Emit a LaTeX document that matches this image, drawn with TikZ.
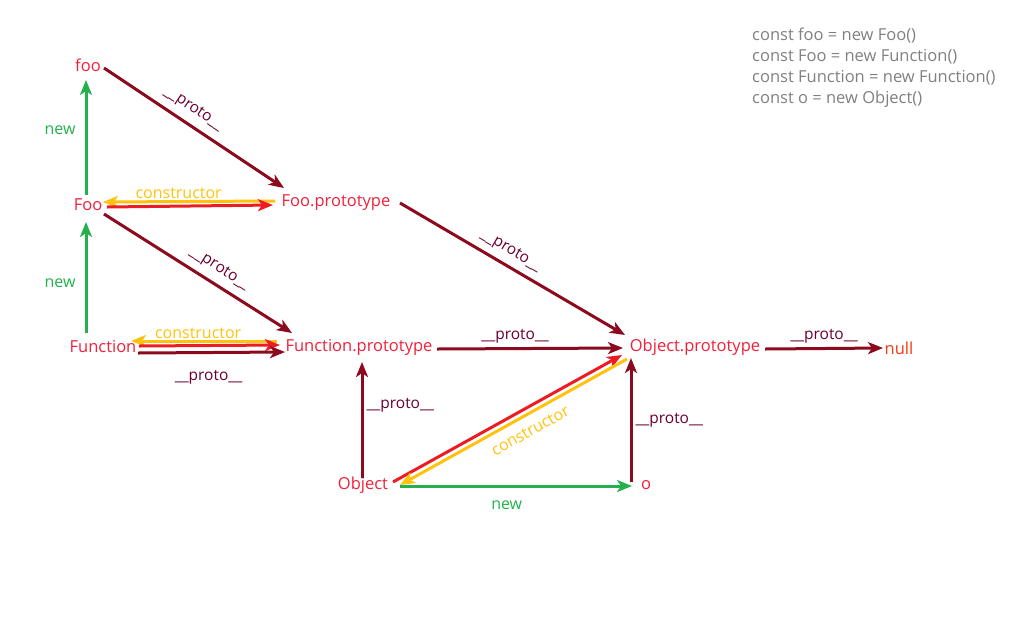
\documentclass[tikz,border=0pt]{standalone}
\usepackage{fontspec}
\setmainfont{Open Sans}
\usetikzlibrary{arrows.meta}
\definecolor{dred}{HTML}{8B0A1E}
\definecolor{ared}{HTML}{EC1C24}
\definecolor{ayel}{HTML}{FFC20E}
\definecolor{agrn}{HTML}{22B14C}
\definecolor{tred}{HTML}{F0203A}
\definecolor{tnull}{HTML}{F03A10}
\definecolor{tgray}{HTML}{808080}
\definecolor{tlab}{HTML}{6A0030}
\begin{document}
\begin{tikzpicture}[x=1pt,y=-1pt,
  lbl/.style={font=\fontsize{16.5}{19}\selectfont, text=tred, inner sep=0pt},
  arr/.style={line width=3pt, -{Stealth[length=15pt,width=12pt,inset=4pt]}},
  pr/.style={arr, draw=dred},
  rd/.style={arr, draw=ared},
  yl/.style={arr, draw=ayel},
  gn/.style={arr, draw=agrn},
  plab/.style={font=\fontsize{15.5}{18}\selectfont, text=tlab, inner sep=1pt},
  ylab/.style={font=\fontsize{16}{18}\selectfont, text=ayel, inner sep=1pt},
  glab/.style={font=\fontsize{16}{18}\selectfont, text=agrn, inner sep=1pt},
  code/.style={font=\fontsize{16.5}{21}\selectfont, text=tgray, inner sep=0pt, align=left, anchor=north west}
]
\path[use as bounding box] (0,0) rectangle (1017,625);

\node[lbl] (foo) at (88,65) {foo};
\node[lbl] (Foo) at (88,205) {Foo};
\node[lbl] (FooP) at (336,203) {Foo.prototype};
\node[lbl] (Func) at (103,347) {Function};
\node[lbl] (FuncP) at (359,347) {Function.prototype};
\node[lbl] (ObjP) at (695,347) {Object.prototype};
\node[lbl, text=tnull] (null) at (899,348) {null};
\node[lbl] (Obj) at (363,485) {Object};
\node[lbl] (o) at (646,485) {o};

\node[code] (code) at (752,28) {const foo = new Foo()\\const Foo = new Function()\\const Function = new Function()\\const o = new Object()};

% foo -> Foo.prototype
\draw[pr] ([shift={(16,3)}]foo.center) -- node[plab, pos=0.45, sloped, above=6pt] {\_\_proto\_\_} ([shift={(-52,-15)}]FooP.center);
% Foo -> foo (new)
\draw[gn] ([shift={(-2,-10)}]Foo.center) -- node[glab, pos=0.56, left=8pt] {new} ([shift={(-2,15)}]foo.center);
% Foo.prototype -> Foo (constructor)
\draw[yl] ([shift={(-61,-2)}]FooP.center) -- node[ylab, pos=0.56, above=0pt] {constructor} ([shift={(15,-3)}]Foo.center);
% Foo -> Foo.prototype (red)
\draw[rd] ([shift={(19,2)}]Foo.center) -- ([shift={(-63,2)}]FooP.center);
% Foo -> Function.prototype
\draw[pr] ([shift={(16,9)}]Foo.center) -- node[plab, pos=0.57, sloped, above=6pt] {\_\_proto\_\_} ([shift={(-67,-14)}]FuncP.center);
% Function -> Foo (new)
\draw[gn] ([shift={(-17,-14)}]Func.center) -- node[glab, pos=0.45, left=8pt] {new} ([shift={(-2,17)}]Foo.center);
% Function.prototype -> Function (constructor)
\draw[yl] ([shift={(-82,-6)}]FuncP.center) -- node[ylab, pos=0.54, above=0pt] {constructor} ([shift={(28,-6)}]Func.center);
% Function -> Function.prototype (red)
\draw[rd] ([shift={(36,-1)}]Func.center) -- ([shift={(-79,-2)}]FuncP.center);
% Function -> Function.prototype (proto)
\draw[pr] ([shift={(35,6)}]Func.center) -- node[plab, pos=0.48, below=15pt] {\_\_proto\_\_} ([shift={(-74,5)}]FuncP.center);
% Foo.prototype -> Object.prototype
\draw[pr] ([shift={(64,0)}]FooP.center) -- node[plab, pos=0.46, sloped, above=5pt] {\_\_proto\_\_} ([shift={(-70,-12)}]ObjP.center);
% Function.prototype -> Object.prototype
\draw[pr] ([shift={(78,2)}]FuncP.center) -- node[plab, pos=0.42, above=3pt] {\_\_proto\_\_} ([shift={(-72,1)}]ObjP.center);
% Object.prototype -> null
\draw[pr] ([shift={(70,2)}]ObjP.center) -- node[plab, pos=0.5, above=3pt] {\_\_proto\_\_} ([shift={(-16,0)}]null.center);
% Object -> Function.prototype
\draw[pr] ([shift={(-1,-7)}]Obj.center) -- node[plab, pos=0.63, right=2pt] {\_\_proto\_\_} ([shift={(3,15)}]FuncP.center);
% Object -> Object.prototype (red)
\draw[rd] ([shift={(30,-3)}]Obj.center) -- ([shift={(-73,8)}]ObjP.center);
% Object.prototype -> Object (constructor)
\draw[yl] ([shift={(-68,12)}]ObjP.center) -- node[ylab, pos=0.46, sloped, below=8pt] {constructor} ([shift={(37,0)}]Obj.center);
% Object -> o (new)
\draw[gn] ([shift={(37,1)}]Obj.center) -- node[glab, pos=0.46, below=12pt] {new} ([shift={(-14,1)}]o.center);
% o -> Object.prototype
\draw[pr] ([shift={(-15,-3)}]o.center) -- node[plab, pos=0.5, right=2pt] {\_\_proto\_\_} ([shift={(-64,11)}]ObjP.center);
\end{tikzpicture}
\end{document}
